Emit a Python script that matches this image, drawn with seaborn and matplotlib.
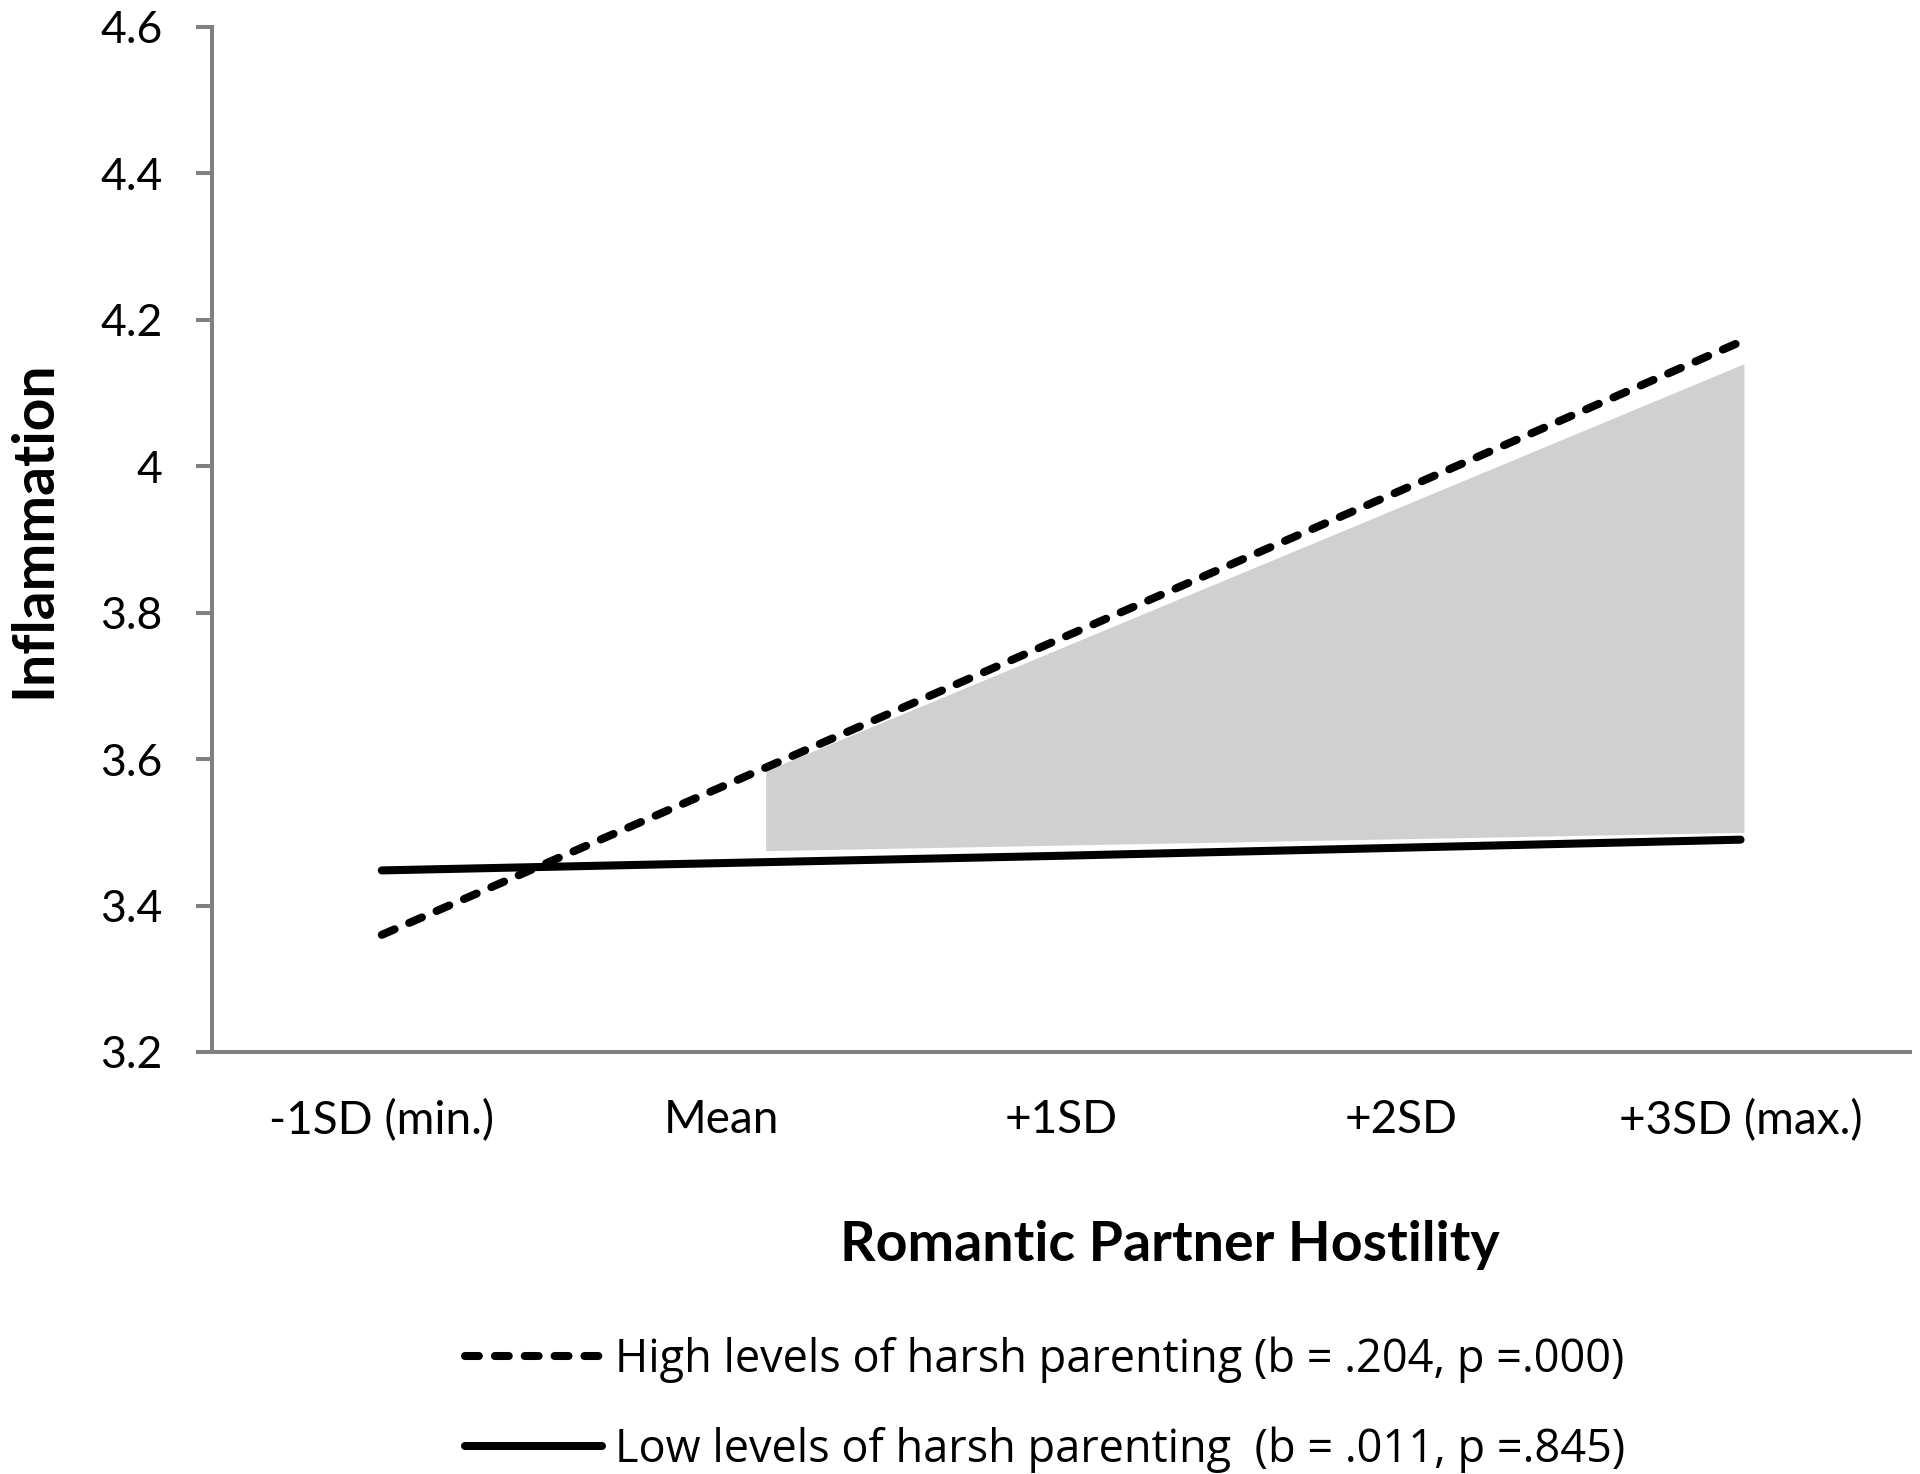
import matplotlib
matplotlib.use("Agg")
import matplotlib.pyplot as plt
import seaborn as sns
import pandas as pd

# カテゴリとシリーズの値
categories = ["-1SD (min.)", "Mean", "+1SD", "+2SD", "+3SD (max.)"]
high_values = [3.36, 3.562, 3.765, 3.967, 4.17]
low_values = [3.448, 3.458, 3.468, 3.479, 3.49]
high_label = "High levels of harsh parenting (b = .204, p =.000)"
low_label = "Low levels of harsh parenting  (b = .011, p =.845)"

# 有意領域（網掛け）
region_x = [1.13, 4.01]
region_top = [3.584, 4.14]
region_bottom = [3.475, 3.50]

y_ticks = [3.2, 3.4, 3.6, 3.8, 4.0, 4.2, 4.4, 4.6]
y_ticklabels = ["3.2", "3.4", "3.6", "3.8", "4", "4.2", "4.4", "4.6"]

sns.set_style("white")
plt.rcParams["font.family"] = ["Lato", "DejaVu Sans"]
plt.rcParams["lines.scale_dashes"] = False
plt.rcParams["text.color"] = "black"
plt.rcParams["axes.labelcolor"] = "black"

df = pd.DataFrame({"cat": categories, "high": high_values, "low": low_values})

fig = plt.figure(figsize=(19.2, 14.74), dpi=100)
ax = fig.add_axes([0.1104, 0.2863, 0.8846, 0.6954])

ax.fill_between(region_x, region_bottom, region_top, color="#d0d0d0", linewidth=0, zorder=1)

sns.lineplot(data=df, x="cat", y="high", ax=ax, color="black", linewidth=5.8,
             label=high_label, zorder=3, sort=False)
sns.lineplot(data=df, x="cat", y="low", ax=ax, color="black", linewidth=5.8,
             label=low_label, zorder=3, sort=False)
ax.lines[0].set_linestyle((0, (10, 11.5)))
ax.lines[0].set_dash_capstyle("round")
ax.lines[1].set_solid_capstyle("round")

ax.set_xlim(-0.5, 4.5)
ax.set_ylim(3.2, 4.6)
ax.set_yticks(y_ticks)
ax.set_yticklabels(y_ticklabels)

for s in ["top", "right"]:
    ax.spines[s].set_visible(False)
for s in ["left", "bottom"]:
    ax.spines[s].set_color("#808080")
    ax.spines[s].set_linewidth(2.9)

ax.tick_params(axis="y", length=11.5, width=2.9, color="#808080", pad=24,
               labelsize=32, labelcolor="black", left=True)
ax.tick_params(axis="x", length=0, pad=34, labelsize=33, labelcolor="black")

ax.set_xlabel("Romantic Partner Hostility", fontsize=40, fontweight="bold")
ax.xaxis.set_label_coords(0.564, -0.188)
ax.xaxis.label.set_va("center")
ax.set_ylabel("Inflammation", fontsize=41, fontweight="bold")
ax.yaxis.set_label_coords(-0.105, 0.51)
ax.yaxis.label.set_va("center")

ax.legend_.remove()
handles, labels = ax.get_legend_handles_labels()
fig.legend(handles, labels, loc="center left", bbox_to_anchor=(0.242, 0.047),
           frameon=False, prop={"family": ["Open Sans", "DejaVu Sans"], "size": 32.5},
           handlelength=3.05, handletextpad=0.27, labelcolor="black",
           labelspacing=0.97, borderpad=0, borderaxespad=0)

fig.savefig("out.png", dpi=100, facecolor="white")
